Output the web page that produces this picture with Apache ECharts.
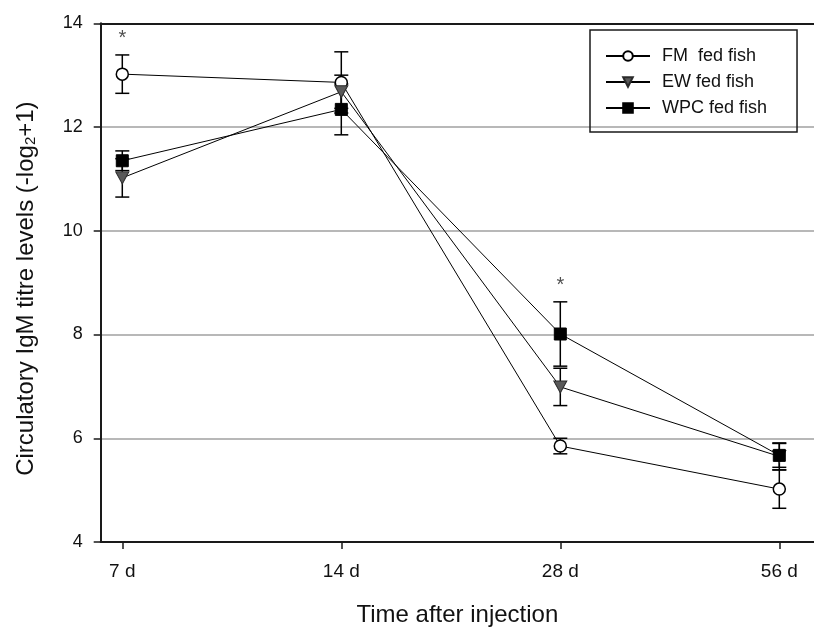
<!DOCTYPE html>
<html>
<head>
<meta charset="utf-8">
<title>Circulatory IgM titre levels</title>
<script src="https://cdn.jsdelivr.net/npm/echarts@6/dist/echarts.min.js"></script>
<style>
  html, body { margin: 0; padding: 0; background: #fff; }
  #chart { width: 814px; height: 627px; }
</style>
</head>
<body>
<div id="chart"></div>
<script>
// Sampling times after injection
const categories = ['7 d', '14 d', '28 d', '56 d'];

// Mean titres (-log2+1) and their error bars for each diet
const fmValues  = [13.02, 12.86, 5.85, 5.02];
const fmErrors  = [0.37, 0.59, 0.15, 0.37];
const ewValues  = [11.02, 12.68, 6.99, 5.65];
const ewErrors  = [0.37, 0.32, 0.36, 0.26];
const wpcValues = [11.35, 12.34, 8.01, 5.67];
const wpcErrors = [0.19, 0.49, 0.62, 0.23];

// Significance marks per sampling time
const significance = ['*', '', '*', ''];

// Y-axis ticks
const yTicks = [4, 6, 8, 10, 12, 14];

const seriesNames = ['FM  fed fish', 'EW fed fish', 'WPC fed fish'];
const FONT = '"Liberation Sans", Arial, Helvetica, sans-serif';

// x range: category positions 0..3 with a short lead-in on the left
const X_MIN = -0.0986;
const X_MAX = 3.1584;
const tickPositions = categories.map((c, i) => i);

const chart = echarts.init(document.getElementById('chart'), null, { renderer: 'canvas' });

function toPoints(values) {
  return values.map((v, i) => [i, v]);
}
function toBars(values, errors) {
  return values.map((v, i) => [i, v - errors[i], v + errors[i]]);
}

function errorBarSeries(name, values, errors) {
  return {
    type: 'custom',
    name: name + ' error',
    silent: true,
    z: 2,
    data: toBars(values, errors),
    encode: { x: 0, y: [1, 2] },
    renderItem: function (params, api) {
      const x = api.value(0);
      const lo = api.coord([x, api.value(1)]);
      const hi = api.coord([x, api.value(2)]);
      const half = 7;
      const style = { stroke: '#000', lineWidth: 1.5 };
      return {
        type: 'group',
        children: [
          { type: 'line', shape: { x1: lo[0], y1: lo[1], x2: hi[0], y2: hi[1] }, style: style },
          { type: 'line', shape: { x1: lo[0] - half, y1: lo[1], x2: lo[0] + half, y2: lo[1] }, style: style },
          { type: 'line', shape: { x1: hi[0] - half, y1: hi[1], x2: hi[0] + half, y2: hi[1] }, style: style }
        ]
      };
    }
  };
}

// Significance marks sit above the highest error bar of each time point
const allValues = [fmValues, ewValues, wpcValues];
const allErrors = [fmErrors, ewErrors, wpcErrors];
const sigData = [];
significance.forEach((mark, i) => {
  if (!mark) return;
  let top = -Infinity;
  allValues.forEach((vals, s) => { top = Math.max(top, vals[i] + allErrors[s][i]); });
  sigData.push({ value: [i, top], label: { formatter: mark } });
});

const lineBase = {
  type: 'line',
  z: 3,
  lineStyle: { color: '#000', width: 1 },
  emphasis: { disabled: true }
};

const axisLineStyle = { color: '#1a1a1a', width: 2 };

const option = {
  animation: false,
  backgroundColor: '#fff',
  textStyle: { fontFamily: FONT },
  grid: {
    left: 100.7, top: 23.3, right: 0, bottom: 85,
    show: false, containLabel: false, outerBoundsMode: 'none'
  },
  legend: {
    left: 590, top: 30,
    orient: 'vertical',
    padding: [17, 30, 15, 15],
    itemGap: 8,
    itemWidth: 44,
    itemHeight: 12,
    borderColor: '#1a1a1a',
    borderWidth: 1.5,
    data: seriesNames,
    textStyle: { fontFamily: FONT, fontSize: 18, color: '#111', padding: [0, 0, 0, 7] }
  },
  xAxis: [
    {
      type: 'value',
      min: X_MIN,
      max: X_MAX,
      name: 'Time after injection',
      nameLocation: 'middle',
      nameGap: 61,
      nameTextStyle: { fontFamily: FONT, fontSize: 24, color: '#111' },
      axisLine: { show: true, onZero: false, lineStyle: axisLineStyle },
      axisTick: { show: true, inside: false, length: 7, customValues: tickPositions, lineStyle: { color: '#1a1a1a', width: 1.5 } },
      axisLabel: {
        customValues: tickPositions,
        margin: 20,
        fontFamily: FONT, fontSize: 19, color: '#111',
        formatter: function (v) { return categories[Math.round(v)]; }
      },
      splitLine: { show: false }
    },
    {
      // top frame line
      type: 'value',
      position: 'top',
      min: X_MIN,
      max: X_MAX,
      axisLine: { show: true, onZero: false, lineStyle: axisLineStyle },
      axisTick: { show: false },
      axisLabel: { show: false },
      splitLine: { show: false }
    }
  ],
  yAxis: {
    type: 'value',
    min: yTicks[0],
    max: yTicks[yTicks.length - 1],
    interval: 2,
    name: 'Circulatory IgM titre levels (-log{sub|2}+1)',
    nameLocation: 'middle',
    nameGap: 62,
    nameRotate: 90,
    nameTextStyle: {
      fontFamily: FONT, fontSize: 24, color: '#111',
      padding: [0, 12, 0, 0],
      rich: { sub: { fontFamily: FONT, fontSize: 15, color: '#111', verticalAlign: 'bottom', padding: [10, 0, 0, 0] } }
    },
    axisLine: { show: true, onZero: false, lineStyle: axisLineStyle },
    axisTick: { show: true, inside: false, length: 7, lineStyle: { color: '#1a1a1a', width: 1.5 } },
    axisLabel: { margin: 18, fontFamily: FONT, fontSize: 18, color: '#111' },
    splitLine: { show: true, lineStyle: { color: '#a0a0a0', width: 1.5 } }
  },
  series: [
    errorBarSeries('FM', fmValues, fmErrors),
    errorBarSeries('EW', ewValues, ewErrors),
    errorBarSeries('WPC', wpcValues, wpcErrors),
    Object.assign({}, lineBase, {
      name: seriesNames[0],
      data: toPoints(fmValues),
      symbol: 'circle',
      symbolSize: 12,
      itemStyle: { color: '#fff', borderColor: '#000', borderWidth: 1.5 }
    }),
    Object.assign({}, lineBase, {
      name: seriesNames[1],
      data: toPoints(ewValues),
      symbol: 'triangle',
      symbolRotate: 180,
      symbolSize: [13, 12],
      itemStyle: { color: '#595959', borderColor: '#2a2a2a', borderWidth: 1 }
    }),
    Object.assign({}, lineBase, {
      name: seriesNames[2],
      data: toPoints(wpcValues),
      symbol: 'rect',
      symbolSize: 12,
      itemStyle: { color: '#000', borderColor: '#000', borderWidth: 1 }
    }),
    {
      type: 'scatter',
      name: 'significance',
      silent: true,
      z: 4,
      symbolSize: 0,
      data: sigData,
      label: {
        show: true,
        position: 'top',
        distance: 6,
        fontFamily: FONT,
        fontSize: 20,
        color: '#222'
      }
    }
  ]
};

chart.setOption(option);
</script>
</body>
</html>
